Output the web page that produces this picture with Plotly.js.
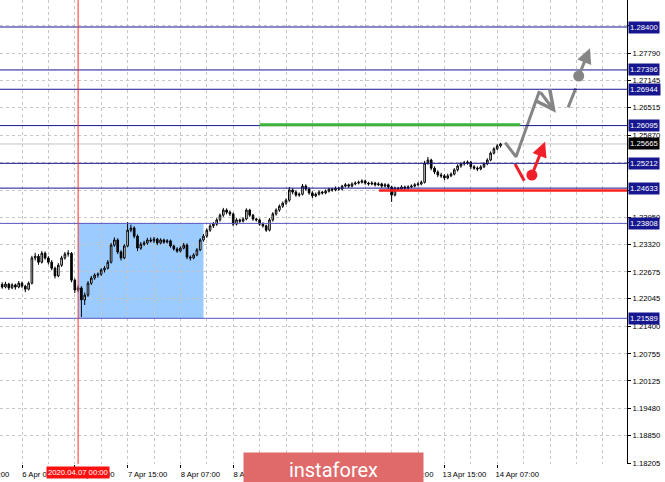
<!DOCTYPE html>
<html>
<head>
<meta charset="utf-8">
<script src="https://cdn.plot.ly/plotly-3.0.1.min.js"></script>
<style>html,body{margin:0;padding:0;background:#fff;}#chart{width:665px;height:482px;}</style>
</head>
<body>
<div id="chart"></div>
<script>
// ---- hourly candles (bar index 0 = 6 Apr 07:00, weekend removed) ----
const firstBarIndex = -6;
const opens = [1.2238,1.2232,1.2239,1.2230,1.2237,1.2232,1.2241,1.2234,1.2227,1.2241,1.2300,1.2304,1.2290,1.2311,1.2300,1.2290,1.2276,1.2258,1.2283,1.2300,1.2309,1.2311,1.2248,1.2225,1.2230,1.2202,1.2213,1.2241,1.2253,1.2260,1.2262,1.2272,1.2276,1.2290,1.2330,1.2342,1.2314,1.2300,1.2328,1.2365,1.2370,1.2351,1.2323,1.2332,1.2335,1.2342,1.2340,1.2344,1.2335,1.2342,1.2337,1.2340,1.2328,1.2321,1.2316,1.2323,1.2330,1.2302,1.2300,1.2307,1.2319,1.2342,1.2351,1.2365,1.2375,1.2379,1.2389,1.2400,1.2412,1.2407,1.2403,1.2379,1.2389,1.2386,1.2391,1.2412,1.2400,1.2391,1.2389,1.2379,1.2375,1.2365,1.2389,1.2403,1.2412,1.2421,1.2428,1.2435,1.2459,1.2454,1.2447,1.2449,1.2468,1.2461,1.2452,1.2445,1.2449,1.2454,1.2452,1.2456,1.2461,1.2459,1.2463,1.2461,1.2468,1.2471,1.2468,1.2473,1.2475,1.2477,1.2480,1.2475,1.2473,1.2475,1.2471,1.2473,1.2468,1.2471,1.2466,1.2447,1.2463,1.2461,1.2466,1.2463,1.2466,1.2468,1.2471,1.2473,1.2477,1.2522,1.2529,1.2510,1.2501,1.2494,1.2492,1.2487,1.2492,1.2496,1.2506,1.2515,1.2520,1.2522,1.2524,1.2513,1.2510,1.2508,1.2513,1.2520,1.2529,1.2545,1.2555,1.2562];
const highs = [1.2243,1.2244,1.2242,1.2241,1.2240,1.2246,1.2245,1.2237,1.2245,1.2305,1.2312,1.2309,1.2316,1.2315,1.2304,1.2295,1.2280,1.2288,1.2305,1.2314,1.2318,1.2314,1.2252,1.2236,1.2234,1.2219,1.2246,1.2258,1.2264,1.2266,1.2276,1.2281,1.2295,1.2335,1.2348,1.2346,1.2318,1.2332,1.2384,1.2378,1.2374,1.2355,1.2337,1.2340,1.2347,1.2348,1.2349,1.2347,1.2346,1.2345,1.2344,1.2343,1.2331,1.2325,1.2327,1.2335,1.2334,1.2306,1.2311,1.2323,1.2346,1.2356,1.2369,1.2379,1.2384,1.2393,1.2404,1.2417,1.2416,1.2411,1.2406,1.2393,1.2392,1.2395,1.2416,1.2415,1.2403,1.2394,1.2392,1.2383,1.2378,1.2393,1.2407,1.2416,1.2425,1.2432,1.2439,1.2466,1.2463,1.2458,1.2453,1.2473,1.2472,1.2465,1.2456,1.2453,1.2458,1.2457,1.2460,1.2464,1.2464,1.2467,1.2466,1.2471,1.2475,1.2474,1.2477,1.2479,1.2481,1.2484,1.2483,1.2478,1.2479,1.2478,1.2477,1.2476,1.2475,1.2474,1.2469,1.2467,1.2466,1.2470,1.2469,1.2470,1.2472,1.2475,1.2477,1.2481,1.2527,1.2536,1.2532,1.2514,1.2505,1.2499,1.2496,1.2497,1.2500,1.2510,1.2519,1.2524,1.2527,1.2528,1.2527,1.2517,1.2514,1.2517,1.2524,1.2533,1.2549,1.2559,1.2566,1.2569];
const lows = [1.2228,1.2229,1.2225,1.2227,1.2226,1.2229,1.2230,1.2220,1.2224,1.2238,1.2294,1.2284,1.2287,1.2296,1.2285,1.2271,1.2252,1.2255,1.2279,1.2296,1.2303,1.2243,1.2218,1.2220,1.2162,1.2190,1.2209,1.2237,1.2249,1.2254,1.2258,1.2266,1.2273,1.2287,1.2326,1.2309,1.2294,1.2297,1.2325,1.2360,1.2346,1.2316,1.2319,1.2328,1.2331,1.2336,1.2335,1.2330,1.2332,1.2333,1.2334,1.2324,1.2317,1.2312,1.2313,1.2320,1.2297,1.2294,1.2297,1.2304,1.2316,1.2338,1.2347,1.2361,1.2370,1.2375,1.2385,1.2396,1.2402,1.2398,1.2374,1.2376,1.2382,1.2383,1.2388,1.2396,1.2387,1.2385,1.2375,1.2371,1.2361,1.2362,1.2385,1.2399,1.2408,1.2417,1.2424,1.2431,1.2449,1.2443,1.2443,1.2446,1.2457,1.2448,1.2440,1.2442,1.2446,1.2448,1.2449,1.2453,1.2455,1.2456,1.2457,1.2458,1.2465,1.2464,1.2465,1.2470,1.2472,1.2474,1.2471,1.2469,1.2470,1.2467,1.2468,1.2464,1.2465,1.2461,1.2431,1.2444,1.2457,1.2458,1.2459,1.2460,1.2463,1.2465,1.2468,1.2470,1.2474,1.2518,1.2505,1.2496,1.2489,1.2487,1.2482,1.2484,1.2489,1.2493,1.2502,1.2511,1.2516,1.2518,1.2508,1.2506,1.2503,1.2505,1.2510,1.2517,1.2526,1.2542,1.2552,1.2558];
const closes = [1.2232,1.2239,1.2230,1.2237,1.2232,1.2241,1.2234,1.2227,1.2241,1.2300,1.2304,1.2290,1.2311,1.2300,1.2290,1.2276,1.2258,1.2283,1.2300,1.2309,1.2311,1.2248,1.2225,1.2230,1.2202,1.2213,1.2241,1.2253,1.2260,1.2262,1.2272,1.2276,1.2290,1.2330,1.2342,1.2314,1.2300,1.2328,1.2365,1.2370,1.2351,1.2323,1.2332,1.2335,1.2342,1.2340,1.2344,1.2335,1.2342,1.2337,1.2340,1.2328,1.2321,1.2316,1.2323,1.2330,1.2302,1.2300,1.2307,1.2319,1.2342,1.2351,1.2365,1.2375,1.2379,1.2389,1.2400,1.2412,1.2407,1.2403,1.2379,1.2389,1.2386,1.2391,1.2412,1.2400,1.2391,1.2389,1.2379,1.2375,1.2365,1.2389,1.2403,1.2412,1.2421,1.2428,1.2435,1.2459,1.2454,1.2447,1.2449,1.2468,1.2461,1.2452,1.2445,1.2449,1.2454,1.2452,1.2456,1.2461,1.2459,1.2463,1.2461,1.2468,1.2471,1.2468,1.2473,1.2475,1.2477,1.2480,1.2475,1.2473,1.2475,1.2471,1.2473,1.2468,1.2471,1.2466,1.2447,1.2463,1.2461,1.2466,1.2463,1.2466,1.2468,1.2471,1.2473,1.2477,1.2522,1.2529,1.2510,1.2501,1.2494,1.2492,1.2487,1.2492,1.2496,1.2506,1.2515,1.2520,1.2522,1.2524,1.2513,1.2510,1.2508,1.2513,1.2520,1.2529,1.2545,1.2555,1.2562,1.25665];

// ---- levels ----
const levels = [1.28400, 1.27396, 1.26944, 1.26095, 1.25212, 1.24633, 1.23808, 1.21589];
const levelColors = ["#16168f","#16168f","#16168f","#16168f","#16168f","#16168f","#5555c0","#5555c0"];
const currentPrice = 1.25665;
const greenLevel = 1.26112;
const greenSpan = [72, 151];
const redLevel = 1.24578;
const redSpan = [108.2, 183.4];
const markerBarIndex = 17;            // 2020.04.07 00:00
const markerLabel = "2020.04.07 00:00";
const boxSpan = [17, 55];
const boxRange = [1.21589, 1.23808];

// ---- axis ticks ----
const yTickVals = [1.28435,1.27790,1.27145,1.26515,1.25870,1.25225,1.24580,1.23950,1.23320,1.22675,1.22045,1.21400,1.20755,1.20125,1.19480,1.18850,1.18205];
const yTickHidden = [1.28435, 1.25225, 1.24580];   // covered by level boxes in the reference
const xTickIdx = [0,16,32,48,64,80,96,112,128,144];
const xTickLabels = ["6 Apr 07:00","6 Apr 23:00","7 Apr 15:00","8 Apr 07:00","8 Apr 23:00","9 Apr 15:00","10 Apr 07:00","10 Apr 23:00","13 Apr 15:00","14 Apr 07:00"];
const offLeftTick = -16, offLeftLabel = "3 Apr 15:00";

// ---- forecast drawings (bar index, price) ----
const grayPathX = [146.4, 149.7, 156.8];
const grayPathY = [1.25695, 1.25367, 1.26904];
const grayArrow1 = {fromX:156.8, fromY:1.26904, toX:161.8, toY:1.26396};
const graySegX = [165.5, 167.8];
const graySegY = [1.26522, 1.26967];
const grayDot = [168.7, 1.27254];
const grayArrow2 = {toX:172.1, toY:1.27902};
const redSegX = [149.4, 152.2];
const redSegY = [1.25196, 1.24806];
const redDot = [154.5, 1.24939];
const redArrow = {toX:158.5, toY:1.25718};

const xRange = [-6.667, 183.33];
const yRange = [1.18182, 1.290313];

const xs = closes.map((_, k) => k + firstBarIndex);
const FONT = "Liberation Sans";
const navy = "#16168f";

const traces = [
  {type:"candlestick", x:xs, open:opens, high:highs, low:lows, close:closes,
   increasing:{line:{color:"#000",width:1}, fillcolor:"#fff"},
   decreasing:{line:{color:"#000",width:1}, fillcolor:"#000"},
   whiskerwidth:0, hoverinfo:"skip", showlegend:false},
  {type:"scatter", mode:"lines", x:grayPathX, y:grayPathY, line:{color:"#858585",width:3}, showlegend:false, hoverinfo:"skip"},
  {type:"scatter", mode:"lines", x:graySegX, y:graySegY, line:{color:"#858585",width:3}, showlegend:false, hoverinfo:"skip"},
  {type:"scatter", mode:"markers", x:[grayDot[0]], y:[grayDot[1]], marker:{color:"#858585",size:11}, showlegend:false, hoverinfo:"skip"},
  {type:"scatter", mode:"lines", x:redSegX, y:redSegY, line:{color:"#f0202a",width:3}, showlegend:false, hoverinfo:"skip"},
  {type:"scatter", mode:"markers", x:[redDot[0]], y:[redDot[1]], marker:{color:"#f0202a",size:11}, showlegend:false, hoverinfo:"skip"}
];

const shapes = [];
shapes.push({type:"rect", xref:"x", yref:"y", x0:boxSpan[0], x1:boxSpan[1], y0:boxRange[0], y1:boxRange[1], fillcolor:"#9ccbff", line:{width:0}, layer:"below"});
levels.forEach((lv, k) => shapes.push({type:"line", xref:"paper", yref:"y", x0:0, x1:1, y0:lv, y1:lv, line:{color:levelColors[k], width:1}}));
shapes.push({type:"line", xref:"paper", yref:"y", x0:0, x1:1, y0:currentPrice, y1:currentPrice, line:{color:"#c4c4c4", width:1}, layer:"below"});
shapes.push({type:"line", xref:"x", yref:"y", x0:greenSpan[0], x1:greenSpan[1], y0:greenLevel, y1:greenLevel, line:{color:"#3cb43c", width:3}});
shapes.push({type:"line", xref:"x", yref:"y", x0:redSpan[0], x1:redSpan[1], y0:redLevel, y1:redLevel, line:{color:"#ff1e1e", width:2.5}});
shapes.push({type:"line", xref:"x", yref:"paper", x0:markerBarIndex, x1:markerBarIndex, y0:0, y1:1, line:{color:"#ff3030", width:1}});

const annotations = [];
levels.forEach(lv => annotations.push({xref:"paper", yref:"y", x:1, y:lv, xanchor:"left", yanchor:"middle", xshift:1, text:lv.toFixed(5), showarrow:false, bgcolor:navy, borderpad:1, font:{family:FONT, size:7.7, color:"#fff"}}));
annotations.push({xref:"paper", yref:"y", x:1, y:currentPrice, xanchor:"left", yanchor:"middle", xshift:1, text:currentPrice.toFixed(5), showarrow:false, bgcolor:"#000", borderpad:1, font:{family:FONT, size:7.7, color:"#fff"}});
annotations.push({xref:"paper", yref:"paper", x:(offLeftTick - xRange[0])/(xRange[1]-xRange[0]), y:0, xanchor:"left", yanchor:"top", xshift:-1, yshift:-4, text:offLeftLabel, showarrow:false, font:{family:FONT, size:7.7, color:"#000"}});
annotations.push({xref:"x", yref:"paper", x:markerBarIndex, y:0, xanchor:"center", yanchor:"top", yshift:-2, text:markerLabel, showarrow:false, bgcolor:"#ff1010", borderpad:1, font:{family:FONT, size:7.7, color:"#fff"}});
annotations.push({xref:"paper", yref:"paper", x:333.5/627, y:0, xanchor:"center", yanchor:"top", yshift:12, width:177, height:32, text:"instaforex", showarrow:false, bgcolor:"#e06a6a", font:{family:"Roboto", size:20, color:"#fff"}});
annotations.push({xref:"x", yref:"y", axref:"x", ayref:"y", x:grayArrow1.toX, y:grayArrow1.toY, ax:grayArrow1.fromX, ay:grayArrow1.fromY, text:"", showarrow:true, arrowhead:5, arrowsize:1.2, arrowwidth:3, arrowcolor:"#858585"});
annotations.push({xref:"x", yref:"y", axref:"x", ayref:"y", x:grayArrow2.toX, y:grayArrow2.toY, ax:grayDot[0], ay:grayDot[1], text:"", showarrow:true, arrowhead:2, arrowsize:1, arrowwidth:3, arrowcolor:"#858585"});
annotations.push({xref:"x", yref:"y", axref:"x", ayref:"y", x:redArrow.toX, y:redArrow.toY, ax:redDot[0], ay:redDot[1], text:"", showarrow:true, arrowhead:2, arrowsize:1, arrowwidth:3, arrowcolor:"#f0202a"});

const layout = {
  width:665, height:482,
  margin:{l:0, r:38, t:0, b:18, pad:0},
  paper_bgcolor:"#fff", plot_bgcolor:"#fff",
  showlegend:false,
  font:{family:FONT, size:7.7, color:"#000"},
  xaxis:{
    range:xRange, type:"linear", fixedrange:true,
    rangeslider:{visible:false},
    tickmode:"array", tickvals:xTickIdx, ticktext:xTickLabels,
    ticks:"outside", ticklen:3, tickcolor:"#000", ticklabelshift:20,
    tickfont:{family:FONT, size:7.7, color:"#000"},
    showgrid:true, gridcolor:"#c6c6c6", griddash:"3px,3px", gridwidth:1,
    minor:{tick0:0, dtick:8, showgrid:true, gridcolor:"#c6c6c6", griddash:"3px,3px", ticks:""},
    zeroline:false, showline:false
  },
  yaxis:{
    range:yRange, side:"right", fixedrange:true,
    tickmode:"array", tickvals:yTickVals,
    ticktext:yTickVals.map(v => yTickHidden.includes(v) ? "" : v.toFixed(5)),
    ticks:"outside", ticklen:3, tickcolor:"#000",
    tickfont:{family:FONT, size:7.7, color:"#000"},
    showgrid:true, gridcolor:"#c6c6c6", griddash:"3px,3px", gridwidth:1,
    zeroline:false, showline:true, linecolor:"#000", linewidth:1
  },
  shapes:shapes,
  annotations:annotations
};

Plotly.newPlot("chart", traces, layout, {displayModeBar:false, staticPlot:true});
</script>
</body>
</html>
